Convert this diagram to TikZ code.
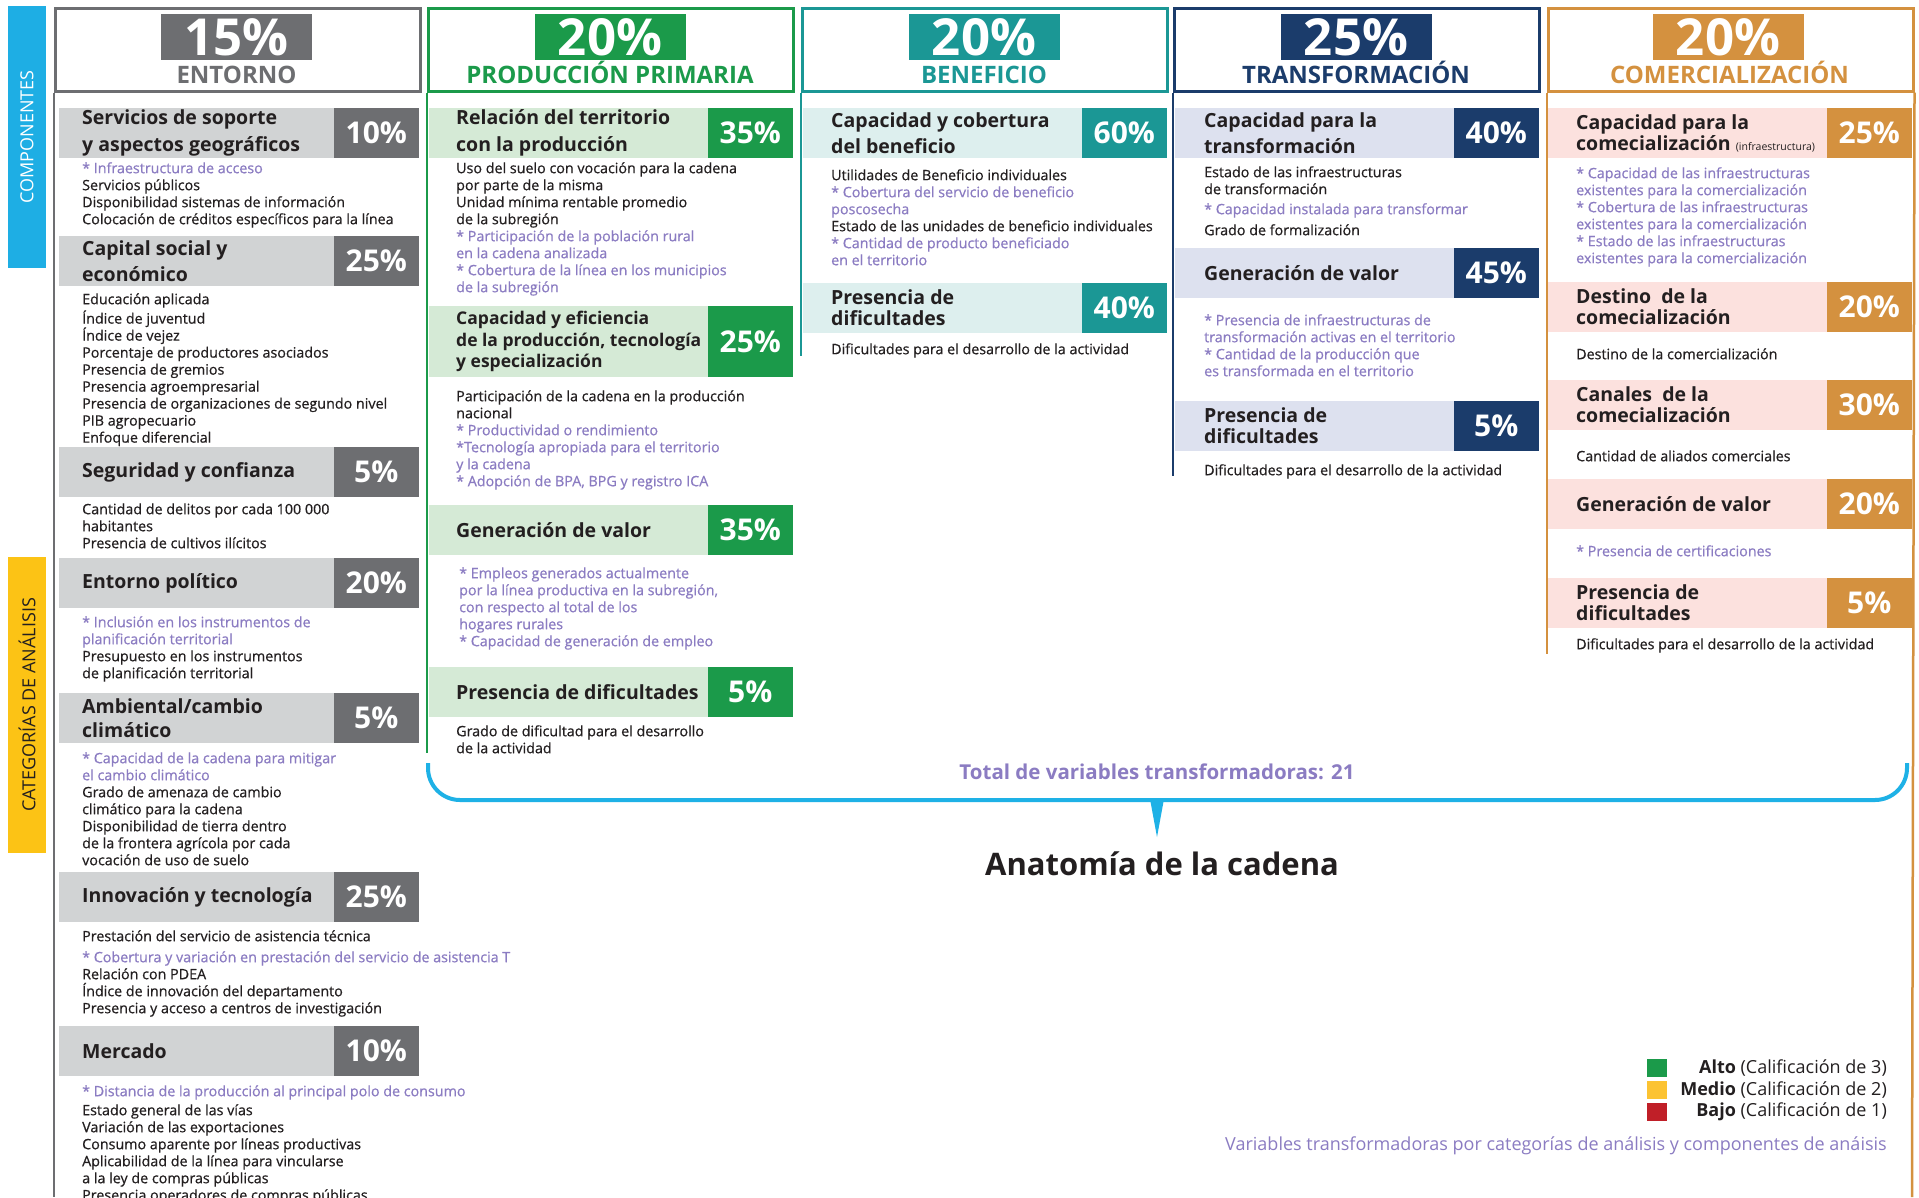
\documentclass[tikz,border=0pt]{standalone}
\usepackage{fontspec}
\setmainfont{Open Sans}
\newfontfamily\itemfam{Open Sans}[FakeBold=0.6]
\usepackage{xcolor}
\usetikzlibrary{positioning}

\definecolor{ink}{HTML}{231F20}
\definecolor{vio}{HTML}{8B7CC2}
\definecolor{gryD}{HTML}{6D6E71}
\definecolor{gryL}{HTML}{D1D3D4}
\definecolor{grnD}{HTML}{1B9A4A}
\definecolor{grnL}{HTML}{D5EAD6}
\definecolor{tealD}{HTML}{1B9795}
\definecolor{tealL}{HTML}{DDEFEE}
\definecolor{navD}{HTML}{1B3C6B}
\definecolor{navL}{HTML}{DDE1EF}
\definecolor{orgD}{HTML}{D4913F}
\definecolor{orgL}{HTML}{FCE1DE}
\definecolor{compBlue}{HTML}{1EAEE4}
\definecolor{catYel}{HTML}{FCC315}
\definecolor{lgYel}{HTML}{FCC332}
\definecolor{lgRed}{HTML}{C01F28}
\definecolor{braceBlue}{HTML}{1EB1E6}

\newcommand{\pv}[1]{\textcolor{vio}{#1}}
\newcommand{\itemfont}{\itemfam\fontsize{14.3}{17}\selectfont}
\newcommand{\ttlfont}{\fontsize{19.5}{21}\selectfont\bfseries}
\newcommand{\ttlfontw}{\fontsize{19.5}{26.5}\selectfont\bfseries}

\begin{document}
\begin{tikzpicture}[x=1pt,y=-1pt,
  bar/.style={fill=#1,inner sep=0,anchor=north east,minimum width=364,minimum height=50},
  pct/.style={fill=#1,text=white,inner sep=0,anchor=north east,minimum width=85,minimum height=50,font=\fontsize{30}{30}\selectfont\bfseries},
  ttl/.style={anchor=west,inner sep=0,align=left,text=ink,font=\ttlfont},
  ttlw/.style={ttl,font=\ttlfontw},
  items/.style={anchor=north west,inner sep=0,align=left,text=ink,yshift=11.9pt,font=\itemfont},
  hbox/.style={draw=#1,line width=2.5,fill=white,anchor=north west,minimum width=365,minimum height=83,inner sep=0},
  hpct/.style={fill=#1,text=white,inner sep=0,minimum width=151,minimum height=46,font=\fontsize{51}{51}\selectfont\bfseries},
  hname/.style={text=#1,inner sep=0,anchor=base,font=\fontsize{24}{24}\selectfont\bfseries},
  rule/.style={draw=#1,line width=2.5},
  side/.style={fill=#1,rotate=90,inner sep=0,minimum height=38,font=\fontsize{18}{18}\selectfont},
  sq/.style={fill=#1,inner sep=0,minimum width=20,minimum height=18},
  lg/.style={anchor=east,inner sep=0,text=ink,font=\fontsize{18}{18}\selectfont}]
  \fill[white] (0,0) rectangle (1919,1197);
  \useasboundingbox (0,0) rectangle (1919,1197);

  \node[side=compBlue,minimum width=262,text=white] (comp) at (27,137) {COMPONENTES};
  \node[side=catYel,minimum width=296,text=ink] (cats) at (27,705) {CATEGORÍAS DE ANÁLISIS};

  % entorno
  \node[hbox=gryD] (entH) at (54,7) {};
  \node[hpct=gryD] (entHp) at (236.5,37) {15\%};
  \node[hname=gryD] (entHn) at (236.5,83) {ENTORNO};
  \draw[rule=gryD] (entH.south west) -- (54,1197);
  \node[bar=gryL,minimum width=360] (ent1) at (419,108) {};
  \node[pct=gryD] (ent1p) at (ent1.north east) {10\%};
  \node[ttlw] (ent1t) at (82,133) {Servicios de soporte\\y aspectos geográficos};
  \node[items] (ent1i) at (82,173) {\strut\pv{* Infraestructura de acceso}\\Servicios públicos\\Disponibilidad sistemas de información\\Colocación de créditos específicos para la línea};
  \node[bar=gryL,minimum width=360] (ent2) at (419,236) {};
  \node[pct=gryD] (ent2p) at (ent2.north east) {25\%};
  \node[ttlw] (ent2t) at (82,261) {Capital social y\\económico};
  \node[items] (ent2i) at (82,304) {\strut Educación aplicada\\Índice de juventud\\Índice de vejez\\Porcentaje de productores asociados\\Presencia de gremios\\Presencia agroempresarial\\Presencia de organizaciones de segundo nivel\\PIB agropecuario\\Enfoque diferencial};
  \node[bar=gryL,minimum width=360] (ent3) at (419,447) {};
  \node[pct=gryD] (ent3p) at (ent3.north east) {5\%};
  \node[ttl] (ent3t) at (82,472) {Seguridad y confianza};
  \node[items] (ent3i) at (82,514) {\strut Cantidad de delitos por cada 100 000\\habitantes\\Presencia de cultivos ilícitos};
  \node[bar=gryL,minimum width=360] (ent4) at (419,558) {};
  \node[pct=gryD] (ent4p) at (ent4.north east) {20\%};
  \node[ttl] (ent4t) at (82,583) {Entorno político};
  \node[items] (ent4i) at (82,627) {\strut\pv{* Inclusión en los instrumentos de}\\\pv{planificación territorial}\\Presupuesto en los instrumentos\\de planificación territorial};
  \node[bar=gryL,minimum width=360] (ent5) at (419,693) {};
  \node[pct=gryD] (ent5p) at (ent5.north east) {5\%};
  \node[ttl,font=\fontsize{19.5}{24}\selectfont\bfseries] (ent5t) at (82,718) {Ambiental/cambio\\climático};
  \node[items] (ent5i) at (82,763) {\strut\pv{* Capacidad de la cadena para mitigar}\\\pv{el cambio climático}\\Grado de amenaza de cambio\\climático para la cadena\\Disponibilidad de tierra dentro\\de la frontera agrícola por cada\\vocación de uso de suelo};
  \node[bar=gryL,minimum width=360] (ent6) at (419,872) {};
  \node[pct=gryD] (ent6p) at (ent6.north east) {25\%};
  \node[ttl] (ent6t) at (82,897) {Innovación y tecnología};
  \node[items] (ent6i) at (82,941) {\strut Prestación del servicio de asistencia técnica\\[4pt]\pv{* Cobertura y variación en prestación del servicio de asistencia T}\\Relación con PDEA\\Índice de innovación del departamento\\Presencia y acceso a centros de investigación};
  \node[bar=gryL,minimum width=360] (ent7) at (419,1026) {};
  \node[pct=gryD] (ent7p) at (ent7.north east) {10\%};
  \node[ttl] (ent7t) at (82,1051) {Mercado};
  \node[items] (ent7i) at (82,1096) {\strut\pv{* Distancia de la producción al principal polo de consumo}\\[2pt]Estado general de las vías\\Variación de las exportaciones\\Consumo aparente por líneas productivas\\Aplicabilidad de la línea para vincularse\\a la ley de compras públicas\\Presencia operadores de compras públicas};

  % produccion primaria
  \node[hbox=grnD] (proH) at (427,7) {};
  \node[hpct=grnD] (proHp) at (610,37) {20\%};
  \node[hname=grnD] (proHn) at (610,83) {PRODUCCIÓN PRIMARIA};
  \draw[rule=grnD] (proH.south west) -- (427,753);
  \node[bar=grnL] (pro1) at (793,108) {};
  \node[pct=grnD] (pro1p) at (pro1.north east) {35\%};
  \node[ttlw] (pro1t) at (456,133) {Relación del territorio\\con la producción};
  \node[items] (pro1i) at (456,173) {\strut Uso del suelo con vocación para la cadena\\por parte de la misma\\Unidad mínima rentable promedio\\de la subregión\\\pv{* Participación de la población rural}\\\pv{en la cadena analizada}\\\pv{* Cobertura de la línea en los municipios}\\\pv{de la subregión}};
  \node[bar=grnL,minimum height=71] (pro2) at (793,306) {};
  \node[pct=grnD,minimum height=71] (pro2p) at (pro2.north east) {25\%};
  \node[ttl,font=\fontsize{17.5}{21.5}\selectfont\bfseries] (pro2t) at (456,341.5) {Capacidad y eficiencia\\de la producción, tecnología\\y especialización};
  \node[items] (pro2i) at (456,401) {\strut Participación de la cadena en la producción\\nacional\\\pv{* Productividad o rendimiento}\\\pv{*Tecnología apropiada para el territorio}\\\pv{y la cadena}\\\pv{* Adopción de BPA, BPG y registro ICA}};
  \node[bar=grnL] (pro3) at (793,505) {};
  \node[pct=grnD] (pro3p) at (pro3.north east) {35\%};
  \node[ttl] (pro3t) at (456,530) {Generación de valor};
  \node[items] (pro3i) at (459,578) {\strut\pv{* Empleos generados actualmente}\\\pv{por la línea productiva en la subregión,}\\\pv{con respecto al total de los}\\\pv{hogares rurales}\\\pv{* Capacidad de generación de empleo}};
  \node[bar=grnL] (pro4) at (793,667) {};
  \node[pct=grnD] (pro4p) at (pro4.north east) {5\%};
  \node[ttl] (pro4t) at (456,692) {Presencia de dificultades};
  \node[items] (pro4i) at (456,736) {\strut Grado de dificultad para el desarrollo\\de la actividad};

  % beneficio
  \node[hbox=tealD] (benH) at (801,7) {};
  \node[hpct=tealD] (benHp) at (984,37) {20\%};
  \node[hname=tealD] (benHn) at (984,83) {BENEFICIO};
  \draw[rule=tealD] (benH.south west) -- (801,356);
  \node[bar=tealL] (ben1) at (1167,108) {};
  \node[pct=tealD] (ben1p) at (ben1.north east) {60\%};
  \node[ttlw] (ben1t) at (831,133) {Capacidad y cobertura\\del beneficio};
  \node[items] (ben1i) at (831,180) {\strut Utilidades de Beneficio individuales\\\pv{* Cobertura del servicio de beneficio}\\\pv{poscosecha}\\Estado de las unidades de beneficio individuales\\\pv{* Cantidad de producto beneficiado}\\\pv{en el territorio}};
  \node[bar=tealL] (ben2) at (1167,283) {};
  \node[pct=tealD] (ben2p) at (ben2.north east) {40\%};
  \node[ttl] (ben2t) at (831,308) {Presencia de\\dificultades};
  \node[items] (ben2i) at (831,354) {\strut Dificultades para el desarrollo de la actividad};

  % transformacion
  \node[hbox=navD] (traH) at (1173,7) {};
  \node[hpct=navD] (traHp) at (1356,37) {25\%};
  \node[hname=navD] (traHn) at (1356,83) {TRANSFORMACIÓN};
  \draw[rule=navD] (traH.south west) -- (1173,476);
  \node[bar=navL] (tra1) at (1539,108) {};
  \node[pct=navD] (tra1p) at (tra1.north east) {40\%};
  \node[ttlw] (tra1t) at (1204,133) {Capacidad para la\\transformación};
  \node[items] (tra1i) at (1204,177) {\strut Estado de las infraestructuras\\de transformación\\[3pt]\pv{* Capacidad instalada para transformar}\\[4pt]Grado de formalización};
  \node[bar=navL] (tra2) at (1539,248) {};
  \node[pct=navD] (tra2p) at (tra2.north east) {45\%};
  \node[ttl] (tra2t) at (1204,273) {Generación de valor};
  \node[items] (tra2i) at (1204,325) {\strut\pv{* Presencia de infraestructuras de}\\\pv{transformación activas en el territorio}\\\pv{* Cantidad de la producción que}\\\pv{es transformada en el territorio}};
  \node[bar=navL] (tra3) at (1539,401) {};
  \node[pct=navD] (tra3p) at (tra3.north east) {5\%};
  \node[ttl] (tra3t) at (1204,426) {Presencia de\\dificultades};
  \node[items] (tra3i) at (1204,475) {\strut Dificultades para el desarrollo de la actividad};

  % comercializacion
  \node[hbox=orgD] (comH) at (1547,7) {};
  \node[hpct=orgD] (comHp) at (1728,37) {20\%};
  \node[hname=orgD] (comHn) at (1729.5,83) {COMERCIALIZACIÓN};
  \draw[rule=orgD] (comH.south west) -- (1547,654);
  \draw[rule=orgD] (comH.south east) -- (1912,1197);
  \node[bar=orgL] (com1) at (1912,108) {};
  \node[pct=orgD] (com1p) at (com1.north east) {25\%};
  \node[ttl] (com1t) at (1576,133) {Capacidad para la\\comecialización {\fontsize{10.5}{10.5}\selectfont\mdseries(infraestructura)}};
  \node[items] (com1i) at (1576,178) {\strut\pv{* Capacidad de las infraestructuras}\\\pv{existentes para la comercialización}\\\pv{* Cobertura de las infraestructuras}\\\pv{existentes para la comercialización}\\\pv{* Estado de las infraestructuras}\\\pv{existentes para la comercialización}};
  \node[bar=orgL] (com2) at (1912,282) {};
  \node[pct=orgD] (com2p) at (com2.north east) {20\%};
  \node[ttl] (com2t) at (1576,307) {Destino\ \ de la\\comecialización};
  \node[items] (com2i) at (1576,359) {\strut Destino de la comercialización};
  \node[bar=orgL] (com3) at (1912,380) {};
  \node[pct=orgD] (com3p) at (com3.north east) {30\%};
  \node[ttl] (com3t) at (1576,405) {Canales\ \ de la\\comecialización};
  \node[items] (com3i) at (1576,461) {\strut Cantidad de aliados comerciales};
  \node[bar=orgL] (com4) at (1912,479) {};
  \node[pct=orgD] (com4p) at (com4.north east) {20\%};
  \node[ttl] (com4t) at (1576,504) {Generación de valor};
  \node[items] (com4i) at (1576,556) {\strut\pv{* Presencia de certificaciones}};
  \node[bar=orgL] (com5) at (1912,578) {};
  \node[pct=orgD] (com5p) at (com5.north east) {5\%};
  \node[ttl] (com5t) at (1576,603) {Presencia de\\dificultades};
  \node[items] (com5i) at (1576,649) {\strut Dificultades para el desarrollo de la actividad};

  % llave y titulo
  \draw[braceBlue,line width=4,rounded corners=32] (428,763) -- (428,800) -- (1907,800) -- (1907,763);
  \coordinate (tip) at (1157,837);
  \fill[braceBlue] (1150,799) -- (1164,799) -- (tip) -- cycle;
  \node[text=vio,font=\fontsize{20.5}{20.5}\selectfont\bfseries] (total) at (1157,772) {Total de variables transformadoras: 21};
  \node[text=ink,font=\fontsize{31}{31}\selectfont\bfseries] (anat) at (1162,864) {Anatomía de la cadena};

  % leyenda
  \node[sq=grnD] (alto) at (1657,1068) {};
  \node[sq=lgYel] (medio) at (1657,1090) {};
  \node[sq=lgRed] (bajo) at (1657,1112) {};
  \node[lg] (altoT) at (1887,1068) {\textbf{Alto} (Calificación de 3)};
  \node[lg] (medioT) at (1887,1090) {\textbf{Medio} (Calificación de 2)};
  \node[lg] (bajoT) at (1887,1112) {\textbf{Bajo} (Calificación de 1)};
  \node[lg,text=vio] (foot) at (1887,1146) {Variables transformadoras por categorías de análisis y componentes de anáisis};
\end{tikzpicture}
\end{document}
